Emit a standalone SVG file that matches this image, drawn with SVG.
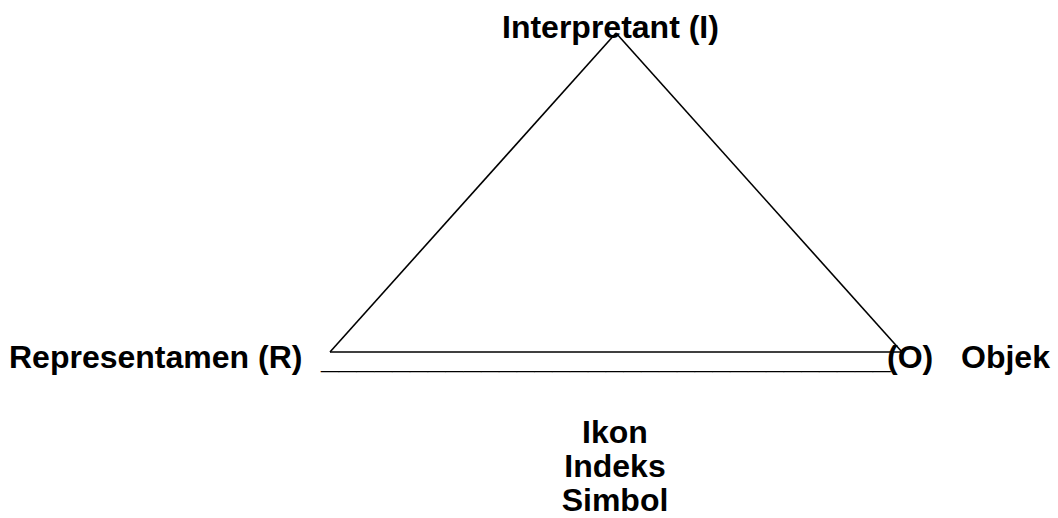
<svg xmlns="http://www.w3.org/2000/svg" width="1058" height="518" viewBox="0 0 1058 518">
<style>
.t{font-family:"Liberation Sans",Arial,sans-serif;font-weight:bold;font-size:32px;fill:#000}
.ln{stroke:#000;stroke-width:1.6;fill:none}
</style>
<rect width="1058" height="518" fill="#fff"/>
<g id="connectors">
<line class="ln" x1="616" y1="33" x2="330" y2="352"/>
<line class="ln" x1="616" y1="33" x2="902" y2="352"/>
<line class="ln" x1="330" y1="352" x2="902" y2="352"/>
</g>
<g id="node-interpretant"><text class="t" x="502" y="38">Interpretant (I)</text></g>
<g id="node-representamen"><text class="t" x="9" y="368">Representamen (R)</text></g>
<g id="node-underline"><text class="t" x="321" y="368">________________________________</text></g>
<g id="node-objek"><text class="t" x="887" y="368">(O)</text><text class="t" x="961" y="368">Objek</text></g>
<g id="node-types">
<text class="t" x="615" y="443" text-anchor="middle">Ikon</text>
<text class="t" x="615" y="477" text-anchor="middle">Indeks</text>
<text class="t" x="615" y="511" text-anchor="middle">Simbol</text>
</g>
</svg>
